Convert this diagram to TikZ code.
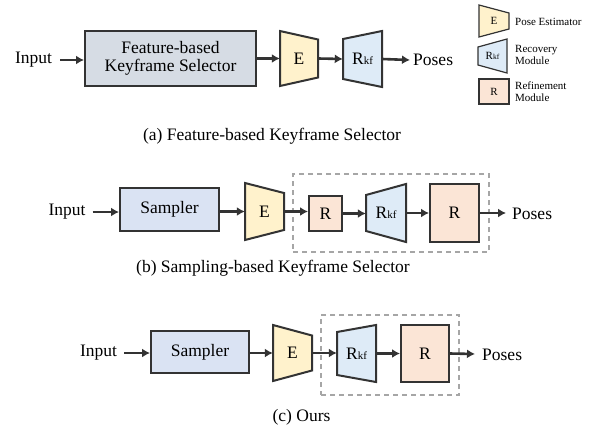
\documentclass[tikz,border=0pt]{standalone}
\usepackage{fontspec}
\setmainfont{Liberation Serif}
\usetikzlibrary{arrows.meta,calc}
\definecolor{edge}{HTML}{333333}
\definecolor{selfill}{HTML}{D6DCE4}
\definecolor{sampfill}{HTML}{DAE3F3}
\definecolor{efill}{HTML}{FFF2CC}
\definecolor{rkffill}{HTML}{DEEBF7}
\definecolor{rfill}{HTML}{FBE5D6}
\definecolor{dashgray}{HTML}{A6A6A6}
\newcommand{\Rkf}{R{\fontsize{11}{11}\selectfont kf}}
\newcommand{\RkfS}{R{\fontsize{7.5}{7.5}\selectfont kf}}
\tikzset{
  lbl/.style={inner sep=0pt, font=\fontsize{17.5}{20}\selectfont},
  blk/.style={draw=edge, line width=2pt, inner sep=0pt, align=center, font=\fontsize{17.5}{20}\selectfont},
  tbox/.style={inner sep=0pt, align=center, font=\fontsize{17.5}{20}\selectfont},
  lblk/.style={draw=edge, line width=1.2pt, inner sep=0pt, font=\fontsize{11}{12}\selectfont},
  ltxt/.style={inner sep=0pt, anchor=west, align=left, font=\fontsize{11}{12.5}\selectfont},
  arr/.style={draw=edge, line width=2.6pt, -{Latex[length=8pt,width=9pt]}},
  dbox/.style={draw=dashgray, line width=1.6pt, dash pattern=on 5pt off 4pt},
}
\newlength{\trapw}\setlength{\trapw}{2pt}
% #1 name, #2 cx, #3 cy, #4 w, #5 h, #6 left inset, #7 right inset, #8 fill, #9 text
\newcommand{\trapnode}[9]{%
  \filldraw[fill=#8, draw=edge, line width=\trapw, line join=miter] ({#2-#4/2},{#3-#5/2+#6}) -- ({#2+#4/2},{#3-#5/2+#7}) -- ({#2+#4/2},{#3+#5/2-#7}) -- ({#2-#4/2},{#3+#5/2-#6}) -- cycle;
  \node[tbox, minimum width=#4, minimum height=#5] (#1) at (#2,#3) {#9};}
\begin{document}
\begin{tikzpicture}[x=1pt,y=-1pt]
\fill[white] (0,0) rectangle (596,431);
\useasboundingbox (0,0) rectangle (596,431);

% ---------- (a)
\node[lbl] (ina) at (33.5,60) {Input};
\node[blk, fill=selfill, minimum width=171, minimum height=55] (fks) at (170.5,58.5) {Feature-based\\[-2pt]Keyframe Selector};
\trapnode{ea}{299}{58.5}{38}{55}{0}{8.5}{efill}{E}
\trapnode{rkfa}{362.5}{59}{39}{56}{8}{0}{rkffill}{\Rkf}
\node[lbl, anchor=west] (posa) at (413,60) {Poses};
\draw[arr] ($(ina.east)+(8,0)$) -- (fks.west |- ina);
\draw[arr] (fks.east |- ea) -- (ea.west);
\draw[arr] (ea.east) -- (rkfa.west);
\draw[arr] (rkfa.east) -- ($(posa.west)+(-3,0)$);
\node[lbl] (capa) at (272,136) {(a) Feature-based Keyframe Selector};

% legend
\begin{scope}[tbox/.style={inner sep=0pt, font=\fontsize{11}{12}\selectfont}]
\setlength{\trapw}{1.2pt}
\trapnode{le}{494}{21}{30}{32}{0}{8}{efill}{E}
\trapnode{lr}{492.5}{56}{29}{34}{8}{0}{rkffill}{\RkfS}
\setlength{\trapw}{2pt}
\end{scope}
\node[ltxt] (lte) at (515,22) {Pose Estimator};
\node[ltxt] (ltr) at (515,55) {Recovery\\Module};
\node[lblk, fill=rfill, minimum width=30, minimum height=25] (lrr) at (494,91.5) {R};
\node[ltxt] (ltrr) at (515,91.5) {Refinement\\Module};

% ---------- (b)
\node[dbox, minimum width=196, minimum height=78, inner sep=0pt] (dashb) at (391,213) {};
\node[lbl] (inb) at (67,212) {Input};
\node[blk, fill=sampfill, minimum width=99, minimum height=43] (sampb) at (169.5,209.5) {Sampler};
\trapnode{eb}{264.5}{211.5}{39}{57}{0}{10}{efill}{E}
\node[blk, fill=rfill, minimum width=33, minimum height=35] (rsb) at (325.5,213.5) {R};
\trapnode{rkfb}{386}{213}{40}{58}{11}{0}{rkffill}{\Rkf}
\node[blk, fill=rfill, minimum width=49, minimum height=58] (rbb) at (454.5,213) {R};
\node[lbl, anchor=west] (posb) at (512,214) {Poses};
\draw[arr] ($(inb.east)+(7,0)$) -- (sampb.west |- inb);
\draw[arr] (sampb.east |- eb) -- (eb.west);
\draw[arr] (eb.east) -- (rsb.west |- eb);
\draw[arr] (rsb.east) -- (rkfb.west |- rsb);
\draw[arr] (rkfb.east) -- (rbb.west);
\draw[arr] (rbb.east) -- ($(posb.west)+(-6,-1)$);
\node[lbl] (capb) at (273,268) {(b) Sampling-based Keyframe Selector};

% ---------- (c)
\node[dbox, minimum width=138, minimum height=80, inner sep=0pt] (dashc) at (390,355) {};
\node[lbl] (inc) at (98.5,353) {Input};
\node[blk, fill=sampfill, minimum width=98, minimum height=42] (sampc) at (200,352) {Sampler};
\trapnode{ec}{292.5}{353}{39}{56}{0}{10.5}{efill}{E}
\trapnode{rkfc}{356.5}{353.5}{39}{57}{7}{0}{rkffill}{\Rkf}
\node[blk, fill=rfill, minimum width=48, minimum height=57] (rc) at (425,353.5) {R};
\node[lbl, anchor=west] (posc) at (482,355) {Poses};
\draw[arr] ($(inc.east)+(7,0)$) -- (sampc.west |- inc);
\draw[arr] (sampc.east |- ec) -- (ec.west);
\draw[arr] (ec.east) -- (rkfc.west |- ec);
\draw[arr] (rkfc.east) -- (rc.west |- rkfc);
\draw[arr] (rc.east) -- ($(posc.west)+(-7,-1)$);
\node[lbl] (capc) at (301.5,417) {(c) Ours};
\end{tikzpicture}
\end{document}
